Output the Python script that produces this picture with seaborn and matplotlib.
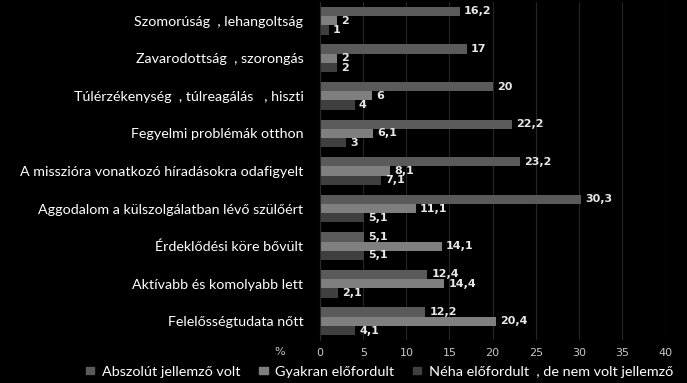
import pandas as pd
import seaborn as sns
import matplotlib.pyplot as plt

categories = [
    "Szomorúság  , lehangoltság",
    "Zavarodottság  , szorongás",
    "Túlérzékenység  , túlreagálás   , hiszti",
    "Fegyelmi problémák otthon",
    "A misszióra vonatkozó híradásokra odafigyelt",
    "Aggodalom a külszolgálatban lévő szülőért",
    "Érdeklődési köre bővült",
    "Aktívabb és komolyabb lett",
    "Felelősségtudata nőtt",
]
series_names = [
    "Abszolút jellemző volt",
    "Gyakran előfordult",
    "Néha előfordult  , de nem volt jellemző",
]
abszolut = [16.2, 17, 20, 22.2, 23.2, 30.3, 5.1, 12.4, 12.2]
gyakran = [2, 2, 6, 6.1, 8.1, 11.1, 14.1, 14.4, 20.4]
neha = [1, 2, 4, 3, 7.1, 5.1, 5.1, 2.1, 4.1]
x_ticks = [0, 5, 10, 15, 20, 25, 30, 35, 40]

colors = ["#5a5a5a", "#7f7f7f", "#3f3f3f"]

rows = []
for name, vals in zip(series_names, [abszolut, gyakran, neha]):
    for c, v in zip(categories, vals):
        rows.append({"cat": c, "val": v, "series": name})
df = pd.DataFrame(rows)

sns.set_style("dark")
plt.rcParams["font.family"] = ["Lato", "DejaVu Sans"]

fig = plt.figure(figsize=(6.87, 3.83), dpi=100, facecolor="black")
ax = fig.add_axes([0.466, 0.112, 0.502, 0.883])
ax.set_facecolor("black")

sns.barplot(data=df, y="cat", x="val", hue="series", orient="h",
            palette=colors, width=0.74, saturation=1, ax=ax, legend=False,
            linewidth=0, edgecolor="none")

# value labels with decimal comma
for cont in ax.containers:
    labels = [f"{v:g}".replace(".", ",") for v in cont.datavalues]
    ax.bar_label(cont, labels=labels, padding=3, color="#e8e8e8",
                 fontsize=8, fontweight="bold", family="DejaVu Sans")

ax.set_xlim(0, 40)
ax.set_xticks(x_ticks)
ax.set_xticklabels([str(t) for t in x_ticks], family="DejaVu Sans",
                   fontsize=8, color="#c8c8c8")
ax.tick_params(axis="x", length=0, pad=6)
ax.tick_params(axis="y", length=0, pad=12, labelsize=10.3, labelcolor="white")
ax.set_xlabel("")
ax.set_ylabel("")
ax.grid(axis="x", color="#262626", linewidth=0.8)
ax.grid(axis="y", visible=False)
for s in ["top", "right", "bottom"]:
    ax.spines[s].set_visible(False)
ax.spines["left"].set_visible(True)
ax.spines["left"].set_color("#2a2a2a")

fig.text(280 / 687, 1 - 352 / 383, "%", color="#c8c8c8", fontsize=8,
         family="DejaVu Sans", ha="center", va="center")

handles = [plt.Rectangle((0, 0), 1, 1, color=c) for c in colors]
fig.legend(handles, series_names, loc="center", bbox_to_anchor=(0.552, 1 - 372 / 383),
           ncol=3, frameon=False, fontsize=10.4, labelcolor="white",
           handlelength=0.6, handleheight=0.35, handletextpad=0.5, columnspacing=1.3)

fig.savefig("out.png", dpi=100, facecolor="black")
